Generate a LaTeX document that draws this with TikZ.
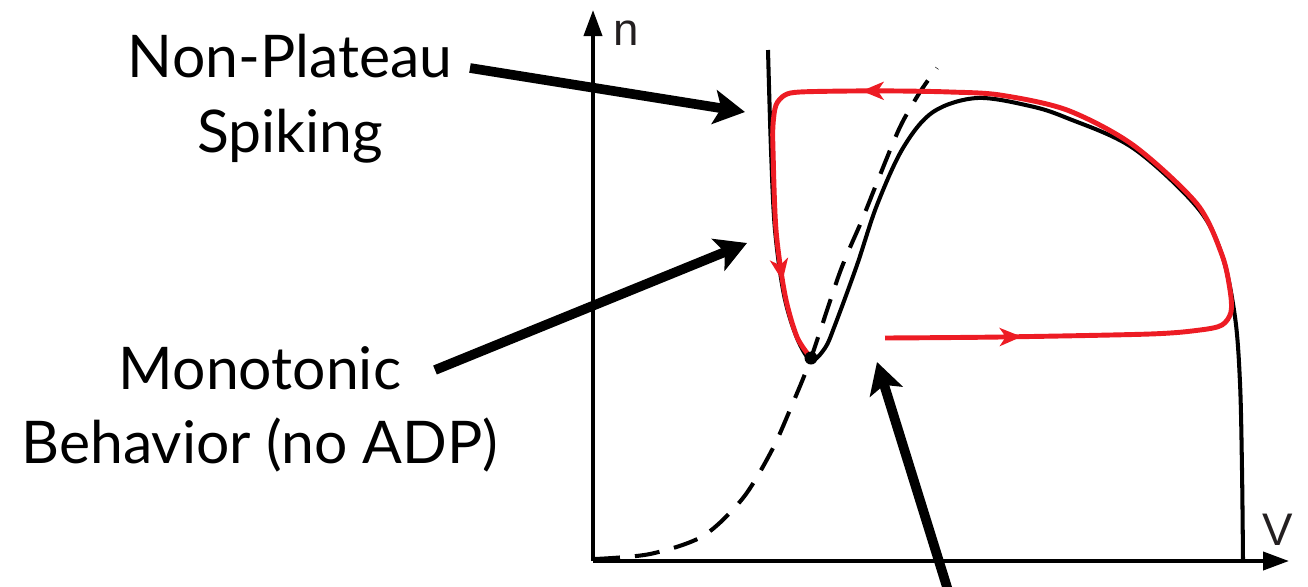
\documentclass[tikz,border=0pt]{standalone}
\usepackage{fontspec}
\setmainfont{Lato}
\newfontfamily\axisfont{Liberation Sans}
\usetikzlibrary{arrows.meta,decorations.markings}
\definecolor{traj}{HTML}{ED1C24}
\definecolor{axislbl}{HTML}{231F20}

\begin{document}
\begin{tikzpicture}[x=0.02cm,y=-0.02cm,
  axis/.style={line width=2.2pt,-{Triangle[length=0.52cm,width=0.36cm]}},
  pointer/.style={line width=5.5pt,-{Stealth[length=0.62cm,width=0.68cm,inset=0.14cm]}},
  lbl/.style={font=\fontsize{33.5}{40}\selectfont,anchor=base,inner sep=0pt},
  axlbl/.style={font=\axisfont\fontsize{26}{30}\selectfont,text=axislbl,anchor=base,inner sep=0pt},
  nullc/.style={line width=2.3pt},
  redtraj/.style={traj,line width=2.8pt,postaction={decorate},
    decoration={markings,
      mark=at position 0.115 with {\arrow{Stealth[length=0.44cm,width=0.36cm,inset=0.12cm]}},
      mark=at position 0.705 with {\arrow{Stealth[length=0.44cm,width=0.36cm,inset=0.12cm]}},
      mark=at position 0.93 with {\arrow{Stealth[length=0.44cm,width=0.36cm,inset=0.12cm]}}}}]
  \useasboundingbox (0,0) rectangle (1308,586);

  % axes
  \coordinate (origin) at (593,561);
  \coordinate (ntip) at (593,10);
  \coordinate (vtip) at (1289,561);
  \draw[axis] (origin) -- (ntip);
  \draw[axis] (origin) -- (vtip);
  \node[axlbl] (nlbl) at (626,45) {n};
  \node[axlbl] (vlbl) at (1278,545) {V};

  % n-nullcline (dashed)
  \draw[nullc,dash pattern=on 0.5cm off 0.3cm] plot[smooth] coordinates {
    (595,559) (650,554) (703,536) (743,498) (772,450) (792,405) (811,358)
    (840,272) (862,220) (878,180) (900,127) (920,92) (937,68)};

  % V-nullcline
  \draw[nullc] plot[smooth,tension=0.55] coordinates {
    (768,50) (771,150) (775,230) (784,295) (797,338) (811,360) (825,348)
    (835,325) (857,265) (877,205) (903,148) (933,112) (977,98) (1030,106)
    (1067,118) (1133,148) (1197,207) (1222,255) (1235,317) (1240,383)
    (1242,470) (1243,561)};

  % trajectory
  \draw[redtraj] plot[smooth,tension=0.5] coordinates {
    (885,338) (1000,337) (1150,334) (1200,330) (1222,325) (1231,312)
    (1230,290) (1222,255) (1197,204) (1133,145) (1067,110) (1000,95)
    (950,92) (900,91) (850,91) (800,92) (785,95) (776,105) (773,125)
    (773,150) (776,230) (785,295) (797,337) (811,358)};
  \node[fill,circle,inner sep=0pt,minimum size=0.26cm] (fixpt) at (811,358) {};

  % labels
  \node[lbl] (nonplat) at (290,77) {Non-Plateau};
  \node[lbl] (spiking) at (290,152) {Spiking};
  \node[lbl] (mono) at (260,389) {Monotonic};
  \node[lbl] (behav) at (260,463) {Behavior (no ADP)};

  \coordinate (np-from) at (470,68);
  \coordinate (np-to) at (745,112);
  \coordinate (mo-from) at (435,370);
  \coordinate (mo-to) at (747,243);
  \coordinate (adp-from) at (951,600);
  \coordinate (adp-to) at (877,362);
  \draw[pointer] (np-from) -- (np-to);
  \draw[pointer] (mo-from) -- (mo-to);
  \draw[pointer] (adp-from) -- (adp-to);
\end{tikzpicture}
\end{document}
